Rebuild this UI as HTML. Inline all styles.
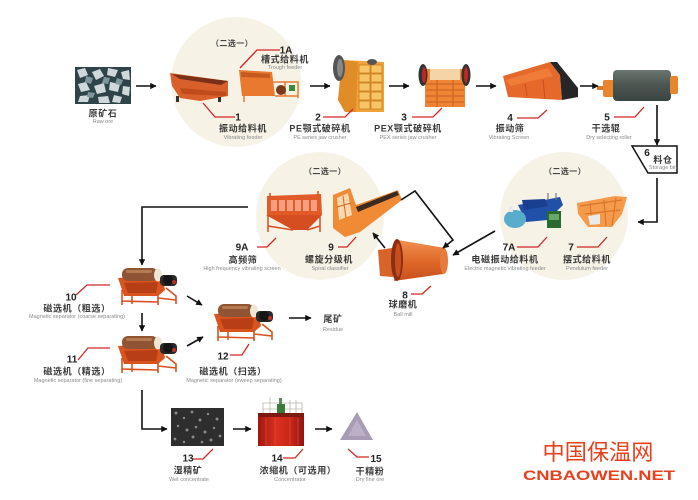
<!DOCTYPE html>
<html><head><meta charset="utf-8">
<style>
html,body{margin:0;padding:0;background:#fff;}
svg{display:block;}
.cn{font-family:"Liberation Sans","Noto Sans CJK SC",sans-serif;font-size:9px;font-weight:bold;fill:#3a3a3a;text-anchor:middle;letter-spacing:0.6px}
.cs{font-family:"Liberation Sans","Noto Sans CJK SC",sans-serif;font-size:8px;font-weight:bold;fill:#444;text-anchor:middle;letter-spacing:0.4px}
.en{font-family:"Liberation Sans",sans-serif;font-size:5.5px;fill:#8a8a8a;text-anchor:middle}
.num{font-family:"Liberation Sans",sans-serif;font-size:10px;font-weight:bold;fill:#222;text-anchor:middle}
.ld{fill:none;stroke:#d42626;stroke-width:1.3}
.ar{fill:none;stroke:#111;stroke-width:1.6}
</style></head><body>
<svg width="698" height="500" viewBox="0 0 698 500" xmlns="http://www.w3.org/2000/svg">
<defs>
<marker id="ah" viewBox="0 0 10 10" refX="9" refY="5" markerWidth="4.5" markerHeight="4" orient="auto"><path d="M0,0 L10,5 L0,10 z" fill="#111"/></marker>
<linearGradient id="drum" x1="0" y1="0" x2="0" y2="1"><stop offset="0" stop-color="#6a7570"/><stop offset="0.5" stop-color="#4a5550"/><stop offset="1" stop-color="#3a4440"/></linearGradient>
<linearGradient id="mill" x1="0" y1="0" x2="0" y2="1"><stop offset="0" stop-color="#f09050"/><stop offset="0.5" stop-color="#e06a2a"/><stop offset="1" stop-color="#c8501e"/></linearGradient>
<linearGradient id="conc" x1="0" y1="0" x2="1" y2="0"><stop offset="0" stop-color="#a01810"/><stop offset="0.4" stop-color="#d83020"/><stop offset="0.7" stop-color="#c82818"/><stop offset="1" stop-color="#901410"/></linearGradient>
<g id="ms">
 <g stroke="#d8501e" stroke-width="1.6" fill="none">
  <path d="M4,22 L4,37 M14,26 L14,36 M40,24 L40,37 M48,20 L58,28 L58,36 M4,33 L40,34 M40,30 L58,32"/>
 </g>
 <polygon points="0,10 44,8 47,22 40,28 6,28" fill="#d9541f"/>
 <polygon points="6,15 40,14 38,25 10,25" fill="#b83e16"/>
 <rect x="4" y="0" width="36" height="13" rx="6" fill="#8e5434"/>
 <rect x="8" y="2" width="26" height="3" rx="1.5" fill="#b47a52"/>
 <ellipse cx="40" cy="7" rx="4" ry="6.5" fill="#efe6d6"/>
 <rect x="42" y="7" width="17" height="11" rx="4" fill="#2a2a2a"/>
 <circle cx="50" cy="12" r="5" fill="#151515"/>
 <circle cx="56" cy="14" r="2" fill="#c03020"/>
</g>
</defs>

<!-- circles -->
<circle cx="236" cy="82" r="65" fill="#f6f2e6"/>
<circle cx="320" cy="216" r="64" fill="#f6f2e6"/>
<circle cx="564" cy="216" r="64" fill="#f6f2e6"/>

<!-- raw ore -->
<rect x="75" y="67" width="56" height="37" fill="#2f4448"/>
<g fill="#cfd9dc">
<polygon points="77,70 85,68 88,75 80,78"/>
<polygon points="92,72 100,69 104,76 96,80"/>
<polygon points="108,68 118,70 115,77 107,75"/>
<polygon points="121,72 129,70 130,80 123,79"/>
<polygon points="78,84 86,82 90,90 81,92"/>
<polygon points="94,86 104,83 106,92 97,94"/>
<polygon points="110,82 120,84 118,92 109,90"/>
<polygon points="123,86 130,87 129,96 122,94"/>
<polygon points="80,96 90,95 88,102 78,102"/>
<polygon points="98,97 108,96 110,103 99,103"/>
<polygon points="114,95 122,97 120,103 112,102"/>
</g>
<g fill="#7e979c">
<polygon points="86,76 93,78 91,84 85,82"/>
<polygon points="104,77 110,78 108,84 102,83"/>
<polygon points="117,78 123,80 121,85 115,84"/>
<polygon points="88,92 95,93 93,98 87,97"/>
</g>

<!-- vibrating feeder 1 -->
<polygon points="170,73 228,81 228,96 200,101 180,98 172,86" fill="#d9602a"/>
<polygon points="172,74 228,81 221,85 180,79" fill="#7a3018"/>
<polygon points="180,88 226,92 226,96 182,94" fill="#c04c1e"/>
<rect x="176" y="96" width="3" height="6" fill="#333"/>
<rect x="218" y="97" width="3" height="5" fill="#333"/>

<!-- trough feeder 1A -->
<polygon points="239,70 272,72 275,96 242,96" fill="#e8792e"/>
<polygon points="241,72 270,74 270,78 241,77" fill="#c45a1e"/>
<g stroke="#e8792e" stroke-width="1.5" fill="none"><path d="M272,82 L298,82 L298,98 M275,96 L298,96 M285,82 L285,96 M244,96 L244,102"/></g>
<circle cx="281" cy="90" r="5" fill="#7a3a1a"/>
<rect x="289" y="85" width="6" height="6" fill="#3a8a3a"/>

<!-- PE crusher 2 -->
<polygon points="342,60 384,62 384,112 345,112 338,100" fill="#f2a23a"/>
<polygon points="342,60 358,62 356,112 345,112 338,100" fill="#e08c28"/>
<g fill="#f8c464" stroke="#c8801e" stroke-width="0.8">
<rect x="359" y="65" width="11" height="8"/><rect x="371" y="65" width="11" height="8"/>
<rect x="359" y="74" width="11" height="8"/><rect x="371" y="74" width="11" height="8"/>
<rect x="359" y="83" width="11" height="8"/><rect x="371" y="83" width="11" height="8"/>
<rect x="359" y="92" width="11" height="8"/><rect x="371" y="92" width="11" height="8"/>
<rect x="359" y="101" width="11" height="8"/><rect x="371" y="101" width="11" height="8"/>
</g>
<ellipse cx="339" cy="68" rx="6" ry="13" fill="#555"/>
<ellipse cx="340" cy="68" rx="3" ry="9" fill="#888"/>
<ellipse cx="372" cy="62" rx="5" ry="3" fill="#555"/>

<!-- PEX crusher 3 -->
<rect x="425" y="69" width="40" height="38" fill="#ee8434"/>
<rect x="430" y="69" width="30" height="11" fill="#f5d4a8"/>
<g stroke="#c8601e" stroke-width="1"><path d="M426,84 L464,84 M426,90 L464,90 M426,96 L464,96 M426,102 L464,102 M437,80 L437,107 M453,80 L453,107"/></g>
<ellipse cx="423" cy="75" rx="4.5" ry="11" fill="#333"/>
<ellipse cx="424" cy="75" rx="2" ry="8" fill="#c02820"/>
<ellipse cx="466" cy="75" rx="4.5" ry="11" fill="#333"/>
<ellipse cx="466" cy="75" rx="2" ry="8" fill="#c02820"/>

<!-- vibrating screen 4 -->
<polygon points="503,76 550,62 560,75 562,100 508,97" fill="#e4692b"/>
<polygon points="506,80 548,68 553,76 510,86" fill="#f07c3a"/>
<polygon points="550,62 557,62 578,88 578,97 562,100 560,75" fill="#262626"/>
<g stroke="#c8501e" stroke-width="1"><path d="M525,84 L527,96 M543,80 L545,99"/></g>

<!-- dry roller 5 -->
<rect x="597" y="86" width="8" height="4" fill="#d87a28"/>
<rect x="603" y="80" width="11" height="17" rx="2" fill="#e8862e"/>
<rect x="613" y="70" width="58" height="31" rx="4" fill="url(#drum)"/>
<rect x="670" y="76" width="8" height="18" rx="2" fill="#e8862e"/>

<!-- storage bin 6 -->
<polygon points="632,146 677,146 677,173 648,173" fill="none" stroke="#111" stroke-width="1.5"/>

<!-- circle 3 equipment -->
<polygon points="518,205 560,197 563,205 548,220 526,222" fill="#2050a8"/>
<polygon points="522,200 545,199 548,206 524,210" fill="#1a3f90"/>
<ellipse cx="515" cy="219" rx="11" ry="9" fill="#5aaccc"/>
<rect x="509" y="206" width="4" height="6" fill="#e8e8e8"/>
<rect x="547" y="211" width="14" height="17" fill="#2a6a30"/>
<rect x="549" y="214" width="10" height="6" fill="#6aa86a"/>
<g stroke="#777" stroke-width="1.2"><path d="M548,193 L548,200 M556,193 L556,200"/></g>

<polygon points="577,203 615,196 627,197 622,214 612,227 588,227 578,214" fill="#f59a4a"/>
<g stroke="#d8762a" stroke-width="1.2" fill="none"><path d="M580,206 L622,200 M585,214 L620,210 M590,203 L592,226 M604,200 L606,226 M616,198 L612,226"/></g>
<polygon points="588,216 600,214 600,224 590,225" fill="#eaeaea"/>

<!-- ball mill 8 -->
<polygon points="378,250 392,248 393,277 380,276" fill="#d8642a"/>
<polygon points="398,240 445,248 443,274 394,281" fill="url(#mill)"/>
<ellipse cx="444" cy="261" rx="4" ry="13" fill="#e87a3a"/>
<ellipse cx="397" cy="260" rx="6" ry="21" fill="#8a2e14"/>
<ellipse cx="398" cy="260" rx="3" ry="17" fill="#c84e1e"/>

<!-- circle 2 equipment: high freq screen 9A -->
<polygon points="267,196 321,194 322,215 267,216" fill="#e25a28"/>
<g fill="#f4a080">
<rect x="271" y="200" width="6" height="11"/><rect x="279" y="200" width="6" height="11"/><rect x="287" y="200" width="6" height="11"/><rect x="295" y="200" width="6" height="11"/><rect x="303" y="200" width="6" height="11"/><rect x="311" y="200" width="6" height="11"/>
</g>
<polygon points="266,215 322,215 307,230 293,230" fill="#d44e22"/>
<g stroke="#d44e22" stroke-width="1.5"><path d="M268,215 L268,232 M320,215 L320,232 M268,226 L293,230 M320,226 L307,230 M270,193 L270,197 M318,191 L318,195"/></g>

<!-- spiral classifier 9 -->
<polygon points="333,195 350,188 356,205 398,190 402,200 360,232 345,237 333,228" fill="#f08a35"/>
<polygon points="337,198 348,193 352,215 339,220" fill="#f9d8b0"/>
<g stroke="#d06a20" stroke-width="1"><path d="M337,207 L351,203 M343,196 L346,218"/></g>
<polygon points="356,207 397,191 399,195 358,212" fill="#3a2a20"/>

<!-- magnetic separators -->
<use href="#ms" x="118" y="268"/>
<use href="#ms" x="118" y="336"/>
<use href="#ms" x="214" y="304"/>

<!-- wet concentrate 13 -->
<rect x="171" y="408" width="53" height="38" fill="#2e2e2e"/>
<g fill="#8a8a8a">
<circle cx="176" cy="413" r="1.5"/><circle cx="184" cy="418" r="1.2"/><circle cx="192" cy="412" r="1.4"/><circle cx="200" cy="420" r="1.5"/><circle cx="208" cy="414" r="1.2"/><circle cx="217" cy="419" r="1.5"/>
<circle cx="178" cy="426" r="1.2"/><circle cx="187" cy="430" r="1.5"/><circle cx="196" cy="427" r="1.3"/><circle cx="205" cy="432" r="1.5"/><circle cx="214" cy="428" r="1.2"/><circle cx="220" cy="436" r="1.4"/>
<circle cx="175" cy="439" r="1.4"/><circle cx="184" cy="442" r="1.2"/><circle cx="193" cy="437" r="1.5"/><circle cx="202" cy="442" r="1.3"/><circle cx="211" cy="440" r="1.5"/>
</g>

<!-- concentrator 14 -->
<g stroke="#b8b8b0" stroke-width="0.8" fill="none"><path d="M263,415 L263,403 L302,403 L302,415 M263,409 L302,409 M270,397 L270,415 M290,400 L290,415 M296,400 L296,415"/></g>
<rect x="277" y="404" width="8" height="11" fill="#3a7a3a"/>
<rect x="279" y="398" width="3" height="6" fill="#5a8a5a"/>
<rect x="258" y="415" width="46" height="31" fill="url(#conc)"/>
<rect x="258" y="413" width="46" height="4" fill="#7a1a10"/>
<g stroke="#e84a30" stroke-width="0.7"><path d="M266,418 L266,445 M275,418 L275,445 M290,418 L290,445 M298,418 L298,445"/></g>

<!-- triangle 15 -->
<polygon points="357,412 340,440 373,440" fill="#a89cb4"/>
<polygon points="357,420 348,436 366,436" fill="#bcb0c6"/>

<!-- arrows -->
<g class="ar" marker-end="url(#ah)">
<path d="M136,86 L156,86"/>
<path d="M310,86 L330,86"/>
<path d="M389,86 L409,86"/>
<path d="M476,86 L496,86"/>
<path d="M580,86 L598,86"/>
<path d="M657,105 L657,145"/>
<path d="M657,178 L657,222 L638,222"/>
<path d="M495,231 L453,255"/>
<path d="M401,200 L415,191 L453,240 L443,248"/>
<path d="M385,248 L373,233"/>
<path d="M248,207 L142,207 L142,265"/>
<path d="M187,296 L202,305"/>
<path d="M142,313 L142,331"/>
<path d="M187,346 L203,337"/>
<path d="M289,318 L311,318"/>
<path d="M142,390 L142,429 L167,429"/>
<path d="M233,429 L251,429"/>
<path d="M315,429 L332,429"/>
</g>

<!-- leader lines -->
<g class="ld">
<path d="M240,68 L257,50 L280,50"/>
<path d="M203,103 L215,117 L235,117"/>
<path d="M323,117 L345,117 L353,109"/>
<path d="M412,117 L433,117 L442,108"/>
<path d="M517,118 L538,118 L547,110"/>
<path d="M614,117 L635,117 L644,107"/>
<path d="M517,247 L538,247 L547,237"/>
<path d="M577,247 L598,247 L607,237"/>
<path d="M411,294 L422,294 L431,286"/>
<path d="M257,247 L267,247 L276,238"/>
<path d="M338,247 L347,247 L356,237"/>
<path d="M76,295 L87,285 L110,285"/>
<path d="M78,360 L88,348 L110,348"/>
<path d="M230,355 L242,355 L249,344"/>
<path d="M193,459 L203,459 L213,449"/>
<path d="M283,458 L295,458 L303,449"/>
<path d="M348,449 L357,457 L369,457"/>
</g>

<!-- texts top row -->
<text class="cn" x="103" y="116.5">原矿石</text>
<text class="en" x="103" y="123">Raw ore</text>
<text class="cs" x="232" y="46">（二选一）</text>
<text class="num" x="286" y="53.5">1A</text>
<text class="cn" x="285" y="62.5">槽式给料机</text>
<text class="en" x="285" y="69">Trough feeder</text>
<text class="num" x="238" y="120.5">1</text>
<text class="cn" x="243" y="131.5">振动给料机</text>
<text class="en" x="243" y="139">Vibrating feeder</text>
<text class="num" x="318" y="120.5">2</text>
<text class="cn" x="320" y="131.5">PE颚式破碎机</text>
<text class="en" x="320" y="139">PE series jaw crusher</text>
<text class="num" x="404" y="120.5">3</text>
<text class="cn" x="408" y="131.5">PEX颚式破碎机</text>
<text class="en" x="408" y="139">PEX series jaw crusher</text>
<text class="num" x="510" y="121">4</text>
<text class="cn" x="510" y="131.5">振动筛</text>
<text class="en" x="509" y="139">Vibrating Screen</text>
<text class="num" x="607" y="120.5">5</text>
<text class="cn" x="606" y="131.5">干选辊</text>
<text class="en" x="609" y="139">Dry selecting roller</text>
<text class="num" x="647" y="156">6</text>
<text class="cn" x="663" y="163">料仓</text>
<text class="en" x="663" y="169">Storage bin</text>

<!-- circle 3 texts -->
<text class="cs" x="565" y="174">（二选一）</text>
<text class="num" x="509" y="250.5">7A</text>
<text class="cn" x="505" y="262.5">电磁振动给料机</text>
<text class="en" x="505" y="270">Electric magnetic vibrating feeder</text>
<text class="num" x="571" y="250.5">7</text>
<text class="cn" x="587" y="262.5">摆式给料机</text>
<text class="en" x="587" y="270">Pendulum feeder</text>

<!-- ball mill texts -->
<text class="num" x="405" y="298.5">8</text>
<text class="cn" x="403" y="307.5">球磨机</text>
<text class="en" x="403" y="316">Ball mill</text>

<!-- circle 2 texts -->
<text class="cs" x="325" y="174">（二选一）</text>
<text class="num" x="242" y="250.5">9A</text>
<text class="cn" x="243" y="263">高频筛</text>
<text class="en" x="242" y="270">High frequency vibrating screen</text>
<text class="num" x="331" y="250.5">9</text>
<text class="cn" x="329" y="262.5">螺旋分级机</text>
<text class="en" x="330" y="270">Spiral classifier</text>

<!-- magnetic separator texts -->
<text class="num" x="71" y="300.5">10</text>
<text class="cn" x="77" y="311.5">磁选机（粗选）</text>
<text class="en" x="77" y="318">Magnetic separator (coarse separating)</text>
<text class="num" x="72" y="362.5">11</text>
<text class="cn" x="77" y="374.5">磁选机（精选）</text>
<text class="en" x="78" y="382">Magnetic separator (fine separating)</text>
<text class="num" x="223" y="359.5">12</text>
<text class="cn" x="233" y="374.5">磁选机（扫选）</text>
<text class="en" x="234" y="382">Magnetic separator (sweep separating)</text>
<text class="cn" x="333" y="322">尾矿</text>
<text class="en" x="333" y="331">Residue</text>

<!-- bottom texts -->
<text class="num" x="188" y="461.5">13</text>
<text class="cn" x="188" y="473.5">湿精矿</text>
<text class="en" x="189" y="481">Wet concentrate</text>
<text class="num" x="277" y="461.5">14</text>
<text class="cn" x="298" y="473.5">浓缩机（可选用）</text>
<text class="en" x="290" y="481">Concentrator</text>
<text class="num" x="376" y="462">15</text>
<text class="cn" x="370" y="474.5">干精粉</text>
<text class="en" x="370" y="481">Dry fine ore</text>

<!-- watermark -->
<text x="598" y="460" font-family="'Liberation Sans','Noto Sans CJK SC',sans-serif" font-size="22" fill="#e8401c" text-anchor="middle" textLength="111" lengthAdjust="spacingAndGlyphs">中国保温网</text>
<text x="523" y="480" font-family="'Liberation Sans',sans-serif" font-size="13.5" font-weight="bold" fill="#e8401c" textLength="152" lengthAdjust="spacingAndGlyphs">CNBAOWEN.NET</text>
</svg>
</body></html>
